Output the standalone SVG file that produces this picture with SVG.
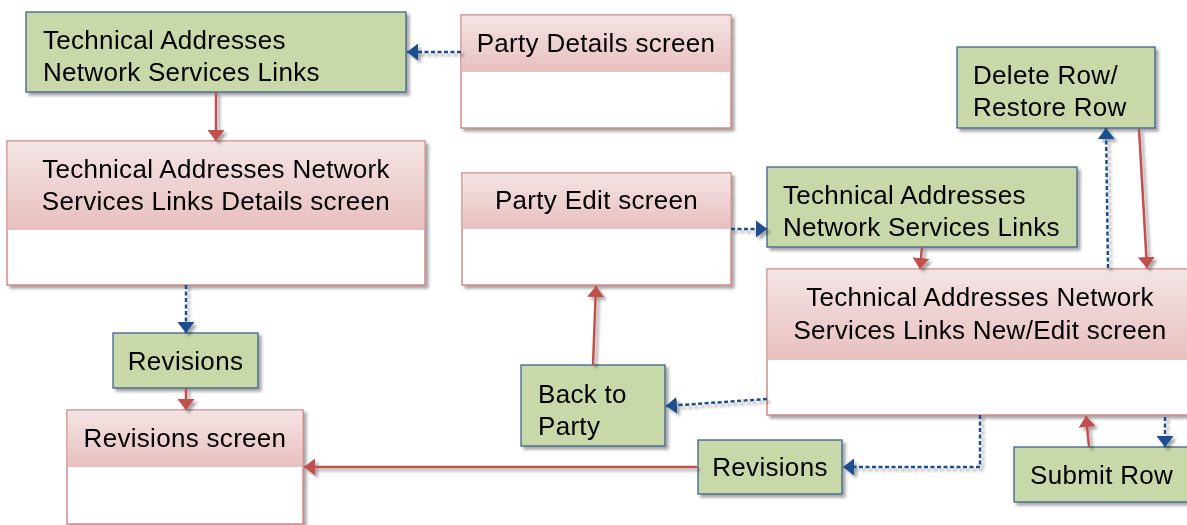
<svg xmlns="http://www.w3.org/2000/svg" width="1187" height="525" viewBox="0 0 1187 525">
<style>
text{font-family:"Liberation Sans",Arial,sans-serif;font-size:26px;letter-spacing:0.3px;fill:#000}
.g{fill:#C8D8A8;stroke:#3B6190;stroke-width:1.3}
.pb{fill:#fff;stroke:#C97A79;stroke-width:1.3}
.ph{fill:url(#pg)}
.c{text-anchor:middle}
.red{fill:none;stroke:#C0504D;stroke-width:2.5;marker-end:url(#ar)}
.blue{fill:none;stroke:#1F4E8C;stroke-width:2.5;stroke-dasharray:4 2.5;marker-end:url(#ab)}
</style>
<defs>
<linearGradient id="pg" x1="0" y1="0" x2="0" y2="1">
<stop offset="0" stop-color="#F4E4E4"/>
<stop offset="1" stop-color="#E8BFBF"/>
</linearGradient>
<filter id="sh" x="-10%" y="-10%" width="120%" height="130%">
<feDropShadow dx="3" dy="3" stdDeviation="1.5" flood-color="#000" flood-opacity="0.35"/>
</filter>
<marker id="ar" viewBox="0 0 11 17" refX="11" refY="8.5" markerWidth="11" markerHeight="17" markerUnits="userSpaceOnUse" orient="auto">
<path d="M0,0 L11,8.5 L0,17 z" fill="#C0504D"/>
</marker>
<marker id="ab" viewBox="0 0 11 17" refX="11" refY="8.5" markerWidth="11" markerHeight="17" markerUnits="userSpaceOnUse" orient="auto">
<path d="M0,0 L11,8.5 L0,17 z" fill="#1F4E8C"/>
</marker>
</defs>

<g id="n1" filter="url(#sh)">
<rect class="g" x="26" y="12" width="380" height="80"/>
<text x="43" y="49">Technical Addresses</text>
<text x="43" y="81">Network Services Links</text>
</g>

<g id="n2" filter="url(#sh)">
<rect class="pb" x="461" y="15" width="270" height="113"/>
<rect class="ph" x="461.7" y="15.7" width="268.6" height="56.3"/>
<text class="c" x="596" y="52">Party Details screen</text>
</g>

<g id="n3" filter="url(#sh)">
<rect class="g" x="957" y="47" width="198" height="81"/>
<text x="973" y="84">Delete Row/</text>
<text x="973" y="116">Restore Row</text>
</g>

<g id="n4" filter="url(#sh)">
<rect class="pb" x="7" y="141" width="418" height="144"/>
<rect class="ph" x="7.7" y="141.7" width="416.6" height="88.3"/>
<text class="c" x="216" y="178">Technical Addresses Network</text>
<text class="c" x="216" y="210">Services Links Details screen</text>
</g>

<g id="n5" filter="url(#sh)">
<rect class="g" x="113" y="333" width="145" height="55"/>
<text class="c" x="185.5" y="370">Revisions</text>
</g>

<g id="n6" filter="url(#sh)">
<rect class="pb" x="67" y="410" width="236" height="114"/>
<rect class="ph" x="67.7" y="410.7" width="234.6" height="56.3"/>
<text class="c" x="185" y="447">Revisions screen</text>
</g>

<g id="n7" filter="url(#sh)">
<rect class="pb" x="462" y="173" width="269" height="112"/>
<rect class="ph" x="462.7" y="173.7" width="267.6" height="55.3"/>
<text class="c" x="596.5" y="209">Party Edit screen</text>
</g>

<g id="n8" filter="url(#sh)">
<rect class="g" x="767" y="167" width="310" height="80"/>
<text x="783" y="204">Technical Addresses</text>
<text x="783" y="236">Network Services Links</text>
</g>

<g id="n9" filter="url(#sh)">
<rect class="pb" x="767" y="269" width="426" height="146"/>
<rect class="ph" x="767.7" y="269.7" width="424.6" height="90.3"/>
<text class="c" x="980" y="306">Technical Addresses Network</text>
<text class="c" x="980" y="339">Services Links New/Edit screen</text>
</g>

<g id="n10" filter="url(#sh)">
<rect class="g" x="521" y="365" width="144" height="81"/>
<text x="538" y="403">Back to</text>
<text x="538" y="435">Party</text>
</g>

<g id="n11" filter="url(#sh)">
<rect class="g" x="698" y="440" width="144" height="54"/>
<text class="c" x="770" y="476">Revisions</text>
</g>

<g id="n12" filter="url(#sh)">
<rect class="g" x="1014" y="447" width="178" height="55"/>
<text x="1030" y="484">Submit Row</text>
</g>

<g id="connectors" filter="url(#sh)">
<path class="blue" d="M461,52 L407,52"/>
<path class="red" d="M216,92 L216,141"/>
<path class="blue" d="M186,285 L186,333"/>
<path class="red" d="M186,388 L186,410"/>
<path class="red" d="M697,467 L304,467"/>
<path class="blue" d="M731,229 L767,229"/>
<path class="red" d="M922,247 L920,269"/>
<path class="blue" d="M1108,268 L1106,128"/>
<path class="red" d="M1139,129 L1147,268"/>
<path class="red" d="M593,365 L596,286"/>
<path class="blue" d="M767,399 L666,406"/>
<path class="blue" d="M980,415 L980,467 L843,467"/>
<path class="red" d="M1089,447 L1086,416"/>
<path class="blue" d="M1165,417 L1165,447"/>
</g>
</svg>
